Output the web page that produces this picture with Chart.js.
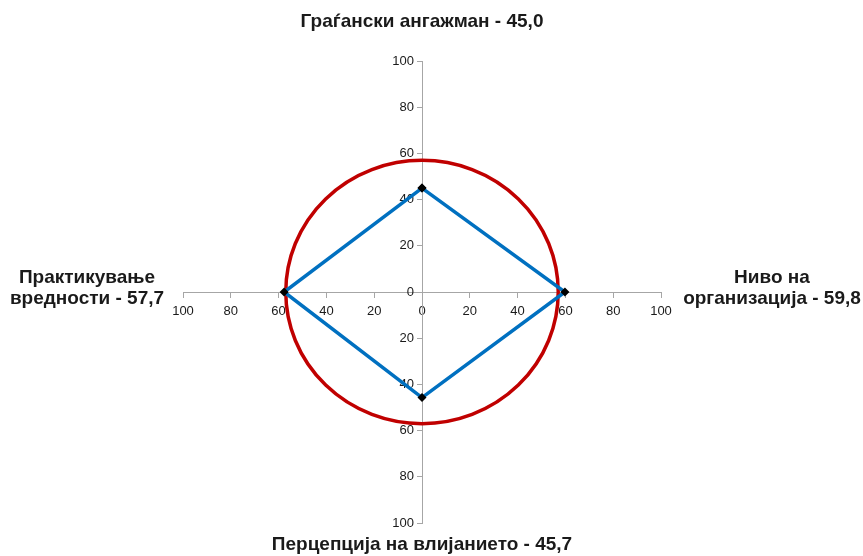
<!DOCTYPE html>
<html>
<head>
<meta charset="utf-8">
<script src="https://cdn.jsdelivr.net/npm/chart.js@4/dist/chart.umd.min.js"></script>
<style>
html,body{margin:0;padding:0;background:#fff;}
#wrap{position:relative;width:863px;height:556px;}
</style>
</head>
<body>
<div id="wrap"><canvas id="c"></canvas></div>
<script>
// Dimension names (clockwise from top) and their values
const categories = ['Граѓански ангажман', 'Ниво на организација', 'Перцепција на влијанието', 'Практикување вредности'];
const values = [45.0, 59.8, 45.7, 57.7];
const valueLabels = ['45,0', '59,8', '45,7', '57,7'];
// Direction of each dimension on the cross (top, right, bottom, left)
const directions = [[0, 1], [1, 0], [0, -1], [-1, 0]];
// Reference circle radius (in axis units)
const circleRadius = 57;
// Axis ticks
const axisMin = -100, axisMax = 100, tickStep = 20;

const diamond = values.map((v, i) => ({x: directions[i][0] * v, y: directions[i][1] * v}));
diamond.push(diamond[0]);

const FONT = '"Liberation Sans", Arial, sans-serif';

const circlePlugin = {
  id: 'circle',
  beforeDatasetsDraw(chart) {
    const xs = chart.scales.x, ys = chart.scales.y;
    const cx = xs.getPixelForValue(0), cy = ys.getPixelForValue(0);
    const rx = Math.abs(xs.getPixelForValue(circleRadius) - cx);
    const ry = Math.abs(ys.getPixelForValue(circleRadius) - cy);
    const ctx = chart.ctx;
    ctx.save();
    ctx.beginPath();
    ctx.ellipse(cx, cy, rx, ry, 0, 0, Math.PI * 2);
    ctx.strokeStyle = '#C00000';
    ctx.lineWidth = 3.5;
    ctx.stroke();
    ctx.restore();
  }
};

const labelPlugin = {
  id: 'dimLabels',
  afterDraw(chart) {
    const xs = chart.scales.x, ys = chart.scales.y;
    const ctx = chart.ctx;
    const cx = xs.getPixelForValue(0), cy = ys.getPixelForValue(0);
    ctx.save();
    ctx.font = 'bold 19px ' + FONT;
    ctx.fillStyle = '#1a1a1a';
    ctx.textAlign = 'center';
    ctx.textBaseline = 'middle';
    // top
    ctx.fillText(categories[0] + ' - ' + valueLabels[0], cx, 22);
    // bottom
    ctx.fillText(categories[2] + ' - ' + valueLabels[2], cx, 545);
    // right (two lines)
    ctx.fillText('Ниво на', 772, cy - 14);
    ctx.fillText('организација - ' + valueLabels[1], 772, cy + 7);
    // left (two lines)
    ctx.fillText('Практикување', 87, cy - 14);
    ctx.fillText('вредности - ' + valueLabels[3], 87, cy + 7);
    ctx.restore();
  }
};

const axisCommon = {
  type: 'linear',
  position: 'center',
  min: axisMin,
  max: axisMax,
  grid: {display: true, drawOnChartArea: false, drawTicks: true, tickLength: 5, color: '#a6a6a6'},
  border: {display: true, color: '#a6a6a6', width: 1},
  ticks: {
    stepSize: tickStep,
    color: '#1a1a1a',
    font: {family: FONT, size: 13},
    callback: v => String(Math.abs(v))
  }
};

new Chart(document.getElementById('c'), {
  type: 'scatter',
  data: {
    datasets: [{
      data: diamond,
      showLine: true,
      borderColor: '#0070C0',
      borderWidth: 3.5,
      pointStyle: 'rectRot',
      pointRadius: 4.5,
      pointBackgroundColor: '#000',
      pointBorderColor: '#000',
      pointBorderWidth: 0,
      tension: 0
    }]
  },
  options: {
    responsive: true,
    maintainAspectRatio: false,
    animation: false,
    layout: {padding: {left: 183, right: 202, top: 61, bottom: 33}},
    plugins: {legend: {display: false}, tooltip: {enabled: false}},
    scales: {
      x: Object.assign({}, axisCommon, {ticks: Object.assign({}, axisCommon.ticks, {maxRotation: 0, padding: 7})}),
      y: axisCommon
    }
  },
  plugins: [circlePlugin, labelPlugin]
});
</script>
</body>
</html>
